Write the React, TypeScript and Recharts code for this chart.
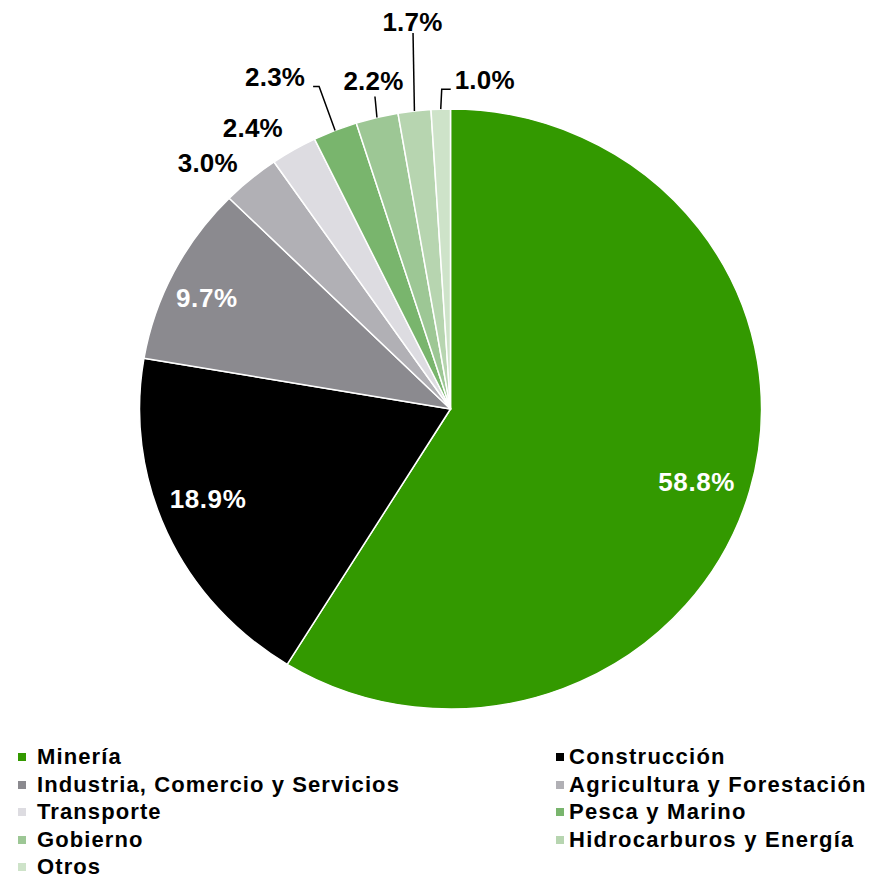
import React from "react";
import { PieChart, Pie, Cell, Legend } from "recharts";

const categories = [
  "Minería",
  "Construcción",
  "Industria, Comercio y Servicios",
  "Agricultura y Forestación",
  "Transporte",
  "Pesca y Marino",
  "Gobierno",
  "Hidrocarburos y Energía",
  "Otros",
];
const shares = [58.8, 18.9, 9.7, 3.0, 2.4, 2.3, 2.2, 1.7, 1.0];
const colors = [
  "#339900",
  "#000000",
  "#8b8a8f",
  "#b1b0b5",
  "#dddce1",
  "#79b56d",
  "#9dc795",
  "#b7d5b0",
  "#cee3c9",
];

const data = categories.map((name, i) => ({ name, value: shares[i] }));

// horizontal stretch of the reference pie (slightly elliptical)
const SX = 311 / 300;
const RAD = Math.PI / 180;
const FONT = "'Liberation Sans', Arial, sans-serif";

// label placement relative to the outer mid-point of each slice
const LABEL_LAYOUT: { dx: number; dy: number; inside?: boolean; line?: number[][] }[] = [
  { dx: -53, dy: -9, inside: true },
  { dx: 41, dy: -33.5, inside: true },
  { dx: 33, dy: 26, inside: true },
  { dx: -43, dy: -16 },
  { dx: -41, dy: -22 },
  { dx: -60, dy: -53, line: [[-16, -44], [-22, -44]] },
  { dx: -3.5, dy: -36.5, line: [[-2, -21]] },
  { dx: -2, dy: -89, line: [[-1.4, -78]] },
  { dx: 44, dy: -29, line: [[1, -20], [10, -20]] },
];

const EllipseSector = (props: any) => {
  const { cx, cy, startAngle, endAngle, outerRadius, fill } = props;
  const rx = outerRadius * SX;
  const ry = outerRadius;
  const x1 = cx + rx * Math.cos(startAngle * RAD);
  const y1 = cy - ry * Math.sin(startAngle * RAD);
  const x2 = cx + rx * Math.cos(endAngle * RAD);
  const y2 = cy - ry * Math.sin(endAngle * RAD);
  const span = Math.abs(endAngle - startAngle);
  const large = span > 180 ? 1 : 0;
  const sweep = startAngle > endAngle ? 1 : 0;
  const d = `M${cx},${cy} L${x1},${y1} A${rx},${ry} 0 ${large} ${sweep} ${x2},${y2} Z`;
  return <path d={d} fill={fill} stroke="#ffffff" strokeWidth={1.5} strokeLinejoin="round" />;
};

const renderLabel = (props: any) => {
  const { cx, cy, midAngle, outerRadius, index, value } = props;
  const rx = outerRadius * SX;
  const ry = outerRadius;
  const ex = cx + rx * Math.cos(midAngle * RAD);
  const ey = cy - ry * Math.sin(midAngle * RAD);
  const lay = LABEL_LAYOUT[index];
  const text = `${Number(value).toFixed(1)}%`;
  const tx = ex + lay.dx;
  const ty = ey + lay.dy;
  let line = null;
  if (lay.line) {
    const pts = [[ex, ey], ...lay.line.map(([dx, dy]) => [ex + dx, ey + dy])];
    line = (
      <polyline
        points={pts.map((p) => p.join(",")).join(" ")}
        fill="none"
        stroke="#000"
        strokeWidth={1.5}
      />
    );
  }
  return (
    <g key={`lbl-${index}`}>
      {line}
      <text
        x={tx}
        y={ty}
        textAnchor="middle"
        dominantBaseline="central"
        fill={lay.inside ? "#ffffff" : "#000000"}
        fontFamily={FONT}
        fontWeight="bold"
        fontSize={26}
        letterSpacing={lay.inside ? 0.6 : 0.2}
      >
        {text}
      </text>
    </g>
  );
};

const LegendContent = (props: any) => {
  const payload = categories.map((name, i) => ({ name, color: colors[i] }));
  return (
    <div style={{ position: "relative", width: 871, height: 140 }}>
      {payload.map((p, i) => {
        const col = i % 2;
        const row = Math.floor(i / 2);
        const left = col === 0 ? 18 : 556;
        const top = row * 27.5;
        return (
          <div
            key={p.name}
            style={{
              position: "absolute",
              left,
              top,
              height: 24,
              display: "flex",
              alignItems: "center",
              whiteSpace: "nowrap",
            }}
          >
            <span
              style={{
                display: "inline-block",
                width: 8,
                height: 8,
                background: p.color,
                marginRight: col === 0 ? 11 : 5,
              }}
            />
            <span
              style={{
                fontFamily: FONT,
                fontWeight: "bold",
                fontSize: 22,
                letterSpacing: col === 0 ? 1.1 : 1.25,
                color: "#000",
                lineHeight: "24px",
              }}
            >
              {p.name}
            </span>
          </div>
        );
      })}
    </div>
  );
};

export default function App() {
  return (
    <div style={{ position: "absolute", left: 0, top: 0, width: 871, height: 878, background: "#fff" }}>
      <PieChart width={871} height={878} margin={{ top: 0, right: 0, bottom: 0, left: 0 }}>
        <Pie
          data={data}
          dataKey="value"
          nameKey="name"
          cx={450.5}
          cy={409}
          outerRadius={300}
          startAngle={90}
          endAngle={-270}
          stroke="#ffffff"
          strokeWidth={1.5}
          isAnimationActive={false}
          shape={EllipseSector}
          activeShape={EllipseSector}
          inactiveShape={EllipseSector}
          label={renderLabel}
          labelLine={false}
        >
          {data.map((d, i) => (
            <Cell key={d.name} fill={colors[i]} />
          ))}
        </Pie>
        <Legend
          content={<LegendContent />}
          wrapperStyle={{ position: "absolute", top: 745, left: 0, width: 871, height: 140 }}
        />
      </PieChart>
    </div>
  );
}
